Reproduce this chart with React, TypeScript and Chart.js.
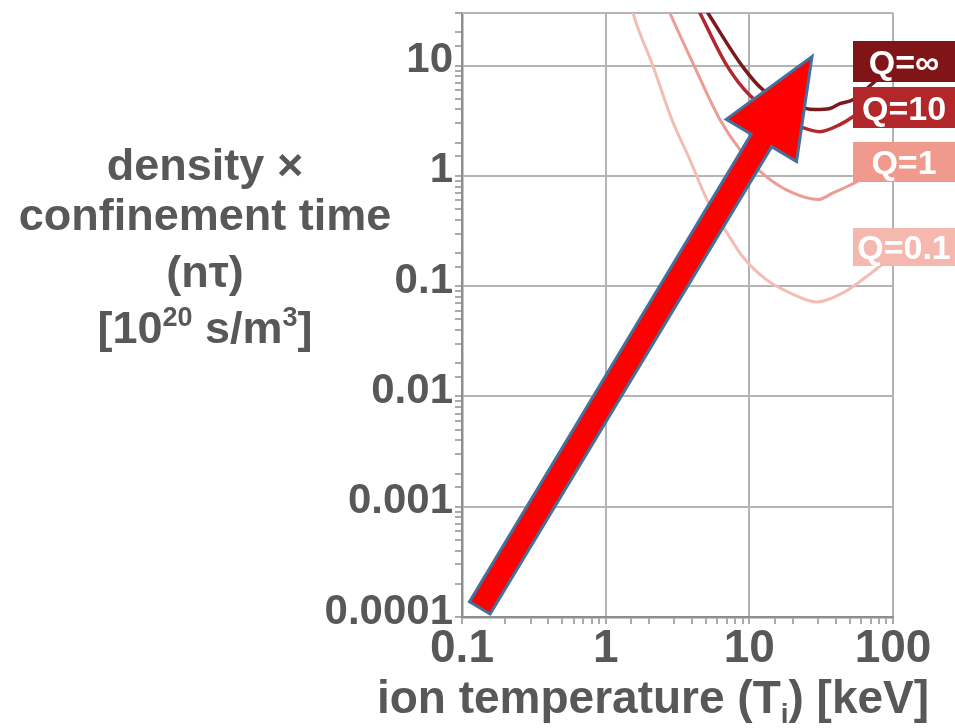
import React, { useEffect, useRef } from 'react';
import { Chart, registerables } from 'chart.js';

Chart.register(...registerables);

// ---------- data ----------
const SERIES_NAMES = ['Q=∞', 'Q=10', 'Q=1', 'Q=0.1'];

const T_QINF = [4.05, 5.15, 8.88, 12.4, 19.2, 28.6, 36.4, 42.7, 52.6, 77.3];
const NT_QINF = [49, 30, 10, 6.06, 4.52, 3.99, 4.08, 4.52, 4.91, 7.47];

const T_Q10 = [3.74, 4.53, 6.98, 10.1, 15.1, 23.6, 31.0, 42.7, 52.6, 63.7];
const NT_Q10 = [49, 30, 10, 5.35, 3.66, 2.74, 2.52, 2.92, 3.44, 4.16];

const T_Q1 = [2.39, 2.8, 4.12, 6.24, 8.6, 13.2, 20.1, 30, 38.2, 56.1, 69];
const NT_Q1 = [49, 30, 10, 3.24, 1.73, 0.98, 0.7, 0.61, 0.7, 0.885, 1.03];

const T_Q01 = [1.42, 1.55, 2.13, 2.89, 3.86, 5.07, 6.98, 9.0, 13.2, 19.2, 29.5, 44.8, 72.4, 87.9];
const NT_Q01 = [49, 30, 10, 3.24, 1.4, 0.61, 0.305, 0.185, 0.114, 0.087, 0.072, 0.087, 0.135, 0.166];

const X_RANGE = [0.1, 100];
const Y_RANGE = [0.0001, 30];
const X_TICK_VALUES = [0.1, 1, 10, 100];
const X_TICK_LABELS = ['0.1', '1', '10', '100'];
const Y_TICK_VALUES = [0.0001, 0.001, 0.01, 0.1, 1, 10];
const Y_TICK_LABELS = ['0.0001', '0.001', '0.01', '0.1', '1', '10'];

// arrow: tail and tip in data coordinates
const ARROW_T = [0.133, 27.3];
const ARROW_NT = [0.000121, 12.1];

const Y_TITLE_LINES = ['density ×', 'confinement time', '(nτ)'];

// ---------- styles ----------
const FONT = '"Liberation Sans", Arial, Helvetica, sans-serif';
const TEXT = '#585858';
const GRID = '#b4b4b4';
const AXIS = '#8e8e8e';
const LINE_COLORS = ['#7b1a1c', '#b3282e', '#eb9c93', '#f3bdb6'];
const BOX_COLORS = ['#7f1517', '#b1272a', '#f09a8d', '#f5b8ae'];
const LINE_WIDTHS = [3.5, 3.5, 3, 3];

function tickIndex(values: number[], v: number): number {
  for (let i = 0; i < values.length; i++) {
    if (Math.abs(Math.log10(v) - Math.log10(values[i])) < 1e-6) return i;
  }
  return -1;
}

const overlayPlugin = {
  id: 'overlay',
  beforeDatasetsDraw(chart: any) {
    const { ctx, chartArea: a } = chart;
    ctx.save();
    ctx.strokeStyle = GRID;
    ctx.lineWidth = 2;
    ctx.beginPath();
    ctx.moveTo(a.left, a.top);
    ctx.lineTo(a.right, a.top);
    ctx.stroke();
    ctx.restore();
  },
  afterDatasetsDraw(chart: any) {
    const { ctx, chartArea: a, width } = chart;
    const xs = chart.scales.x;
    const ys = chart.scales.y;

    // ---- arrow ----
    const x0 = xs.getPixelForValue(ARROW_T[0]);
    const y0 = ys.getPixelForValue(ARROW_NT[0]);
    const x1 = xs.getPixelForValue(ARROW_T[1]);
    const y1 = ys.getPixelForValue(ARROW_NT[1]);
    const dx = x1 - x0, dy = y1 - y0;
    const L = Math.hypot(dx, dy);
    const ux = dx / L, uy = dy / L;
    const nx = -uy, ny = ux;
    const sw = 12, hw = 41, hl = 98;
    const bx = x1 - ux * hl, by = y1 - uy * hl;
    ctx.save();
    ctx.beginPath();
    ctx.moveTo(x0 + nx * sw, y0 + ny * sw);
    ctx.lineTo(bx + nx * sw, by + ny * sw);
    ctx.lineTo(bx + nx * hw, by + ny * hw);
    ctx.lineTo(x1, y1);
    ctx.lineTo(bx - nx * hw, by - ny * hw);
    ctx.lineTo(bx - nx * sw, by - ny * sw);
    ctx.lineTo(x0 - nx * sw, y0 - ny * sw);
    ctx.closePath();
    ctx.fillStyle = '#ff0000';
    ctx.fill();
    ctx.lineJoin = 'miter';
    ctx.lineWidth = 3;
    ctx.strokeStyle = '#41719c';
    ctx.stroke();
    ctx.restore();

    // ---- series labels ----
    const boxLeft = a.right - 40;
    const boxTops = [a.top + 28, a.top + 74, a.top + 129, a.top + 215];
    const boxH = [41, 41, 40, 38];
    ctx.save();
    ctx.font = `bold 34px ${FONT}`;
    ctx.textAlign = 'center';
    ctx.textBaseline = 'alphabetic';
    SERIES_NAMES.forEach((name, i) => {
      ctx.fillStyle = BOX_COLORS[i];
      ctx.fillRect(boxLeft, boxTops[i], width - boxLeft, boxH[i]);
      ctx.fillStyle = '#ffffff';
      ctx.fillText(name, (boxLeft + width) / 2, boxTops[i] + boxH[i] / 2 + 12);
    });
    ctx.restore();

    // ---- y title ----
    ctx.save();
    ctx.fillStyle = TEXT;
    ctx.font = `bold 45px ${FONT}`;
    ctx.textAlign = 'center';
    const cx = a.left - 257;
    const baselines = [180, 230, 287];
    Y_TITLE_LINES.forEach((t, i) => ctx.fillText(t, cx, baselines[i]));
    const parts: [string, boolean][] = [['[10', false], ['20', true], [' s/m', false], ['3', true], [']', false]];
    const big = `bold 45px ${FONT}`;
    const small = `bold 27px ${FONT}`;
    let total = 0;
    parts.forEach(([s, sup]) => { ctx.font = sup ? small : big; total += ctx.measureText(s).width; });
    let px = cx - total / 2;
    ctx.textAlign = 'left';
    parts.forEach(([s, sup]) => {
      ctx.font = sup ? small : big;
      ctx.fillText(s, px, sup ? 343 - 17 : 343);
      px += ctx.measureText(s).width;
    });

    // ---- x title ----
    const xparts: [string, boolean][] = [['ion temperature (T', false], ['i', true], [') [keV]', false]];
    const xbig = `bold 46px ${FONT}`;
    const xsmall = `bold 28px ${FONT}`;
    let xt = 0;
    xparts.forEach(([s, sub]) => { ctx.font = sub ? xsmall : xbig; xt += ctx.measureText(s).width; });
    let qx = 653 - xt / 2;
    xparts.forEach(([s, sub]) => {
      ctx.font = sub ? xsmall : xbig;
      ctx.fillText(s, qx, sub ? 713 + 10 : 713);
      qx += ctx.measureText(s).width;
    });
    ctx.restore();
  },
};

export default function App() {
  const ref = useRef<HTMLCanvasElement>(null);

  useEffect(() => {
    if (!ref.current) return;
    const mk = (T: number[], NT: number[]) => T.map((t, i) => ({ x: t, y: NT[i] }));
    const seriesData = [mk(T_QINF, NT_QINF), mk(T_Q10, NT_Q10), mk(T_Q1, NT_Q1), mk(T_Q01, NT_Q01)];

    const chart = new Chart(ref.current, {
      type: 'line',
      data: {
        datasets: SERIES_NAMES.map((name, i) => ({
          label: name,
          data: seriesData[i],
          borderColor: LINE_COLORS[i],
          borderWidth: LINE_WIDTHS[i],
          pointRadius: 0,
          fill: false,
          cubicInterpolationMode: 'monotone' as const,
        })),
      },
      options: {
        responsive: false,
        animation: false,
        devicePixelRatio: 1,
        layout: { padding: { top: 13, right: 62, left: 0, bottom: 0 } },
        plugins: { legend: { display: false }, tooltip: { enabled: false } },
        scales: {
          x: {
            type: 'logarithmic',
            min: X_RANGE[0],
            max: X_RANGE[1],
            afterFit: (s: any) => { s.height = 111; s.paddingLeft = 0; s.paddingRight = 0; },
            grid: {
              color: (c: any) => (c.tick && tickIndex(X_TICK_VALUES, c.tick.value) >= 0 ? GRID : 'rgba(0,0,0,0)'),
              lineWidth: 2,
              tickColor: AXIS,
              tickLength: 7,
              tickWidth: 1.5,
            },
            border: { color: AXIS, width: 2.5 },
            ticks: {
              autoSkip: false,
              maxRotation: 0,
              minRotation: 0,
              padding: -2,
              color: TEXT,
              font: { family: FONT, size: 46, weight: 'bold' },
              callback: (v: any) => {
                const k = tickIndex(X_TICK_VALUES, Number(v));
                return k >= 0 ? X_TICK_LABELS[k] : '';
              },
            },
          },
          y: {
            type: 'logarithmic',
            min: Y_RANGE[0],
            max: Y_RANGE[1],
            afterFit: (s: any) => { s.width = 462; s.paddingTop = 0; s.paddingBottom = 0; },
            grid: {
              color: (c: any) => (c.tick && tickIndex(Y_TICK_VALUES, c.tick.value) >= 0 ? GRID : 'rgba(0,0,0,0)'),
              lineWidth: 2,
              tickColor: AXIS,
              tickLength: 7,
              tickWidth: 1.5,
            },
            border: { color: AXIS, width: 2.5 },
            ticks: {
              autoSkip: false,
              padding: 2,
              labelOffset: -5,
              color: TEXT,
              font: { family: FONT, size: 42, weight: 'bold' },
              callback: (v: any) => {
                const k = tickIndex(Y_TICK_VALUES, Number(v));
                return k >= 0 ? Y_TICK_LABELS[k] : '';
              },
            },
          },
        },
      } as any,
      plugins: [overlayPlugin],
    });
    return () => chart.destroy();
  }, []);

  return (
    <div style={{ position: 'fixed', left: 0, top: 0, width: 955, height: 728, background: '#ffffff' }}>
      <canvas ref={ref} width={955} height={728} style={{ display: 'block', width: 955, height: 728 }} />
    </div>
  );
}
